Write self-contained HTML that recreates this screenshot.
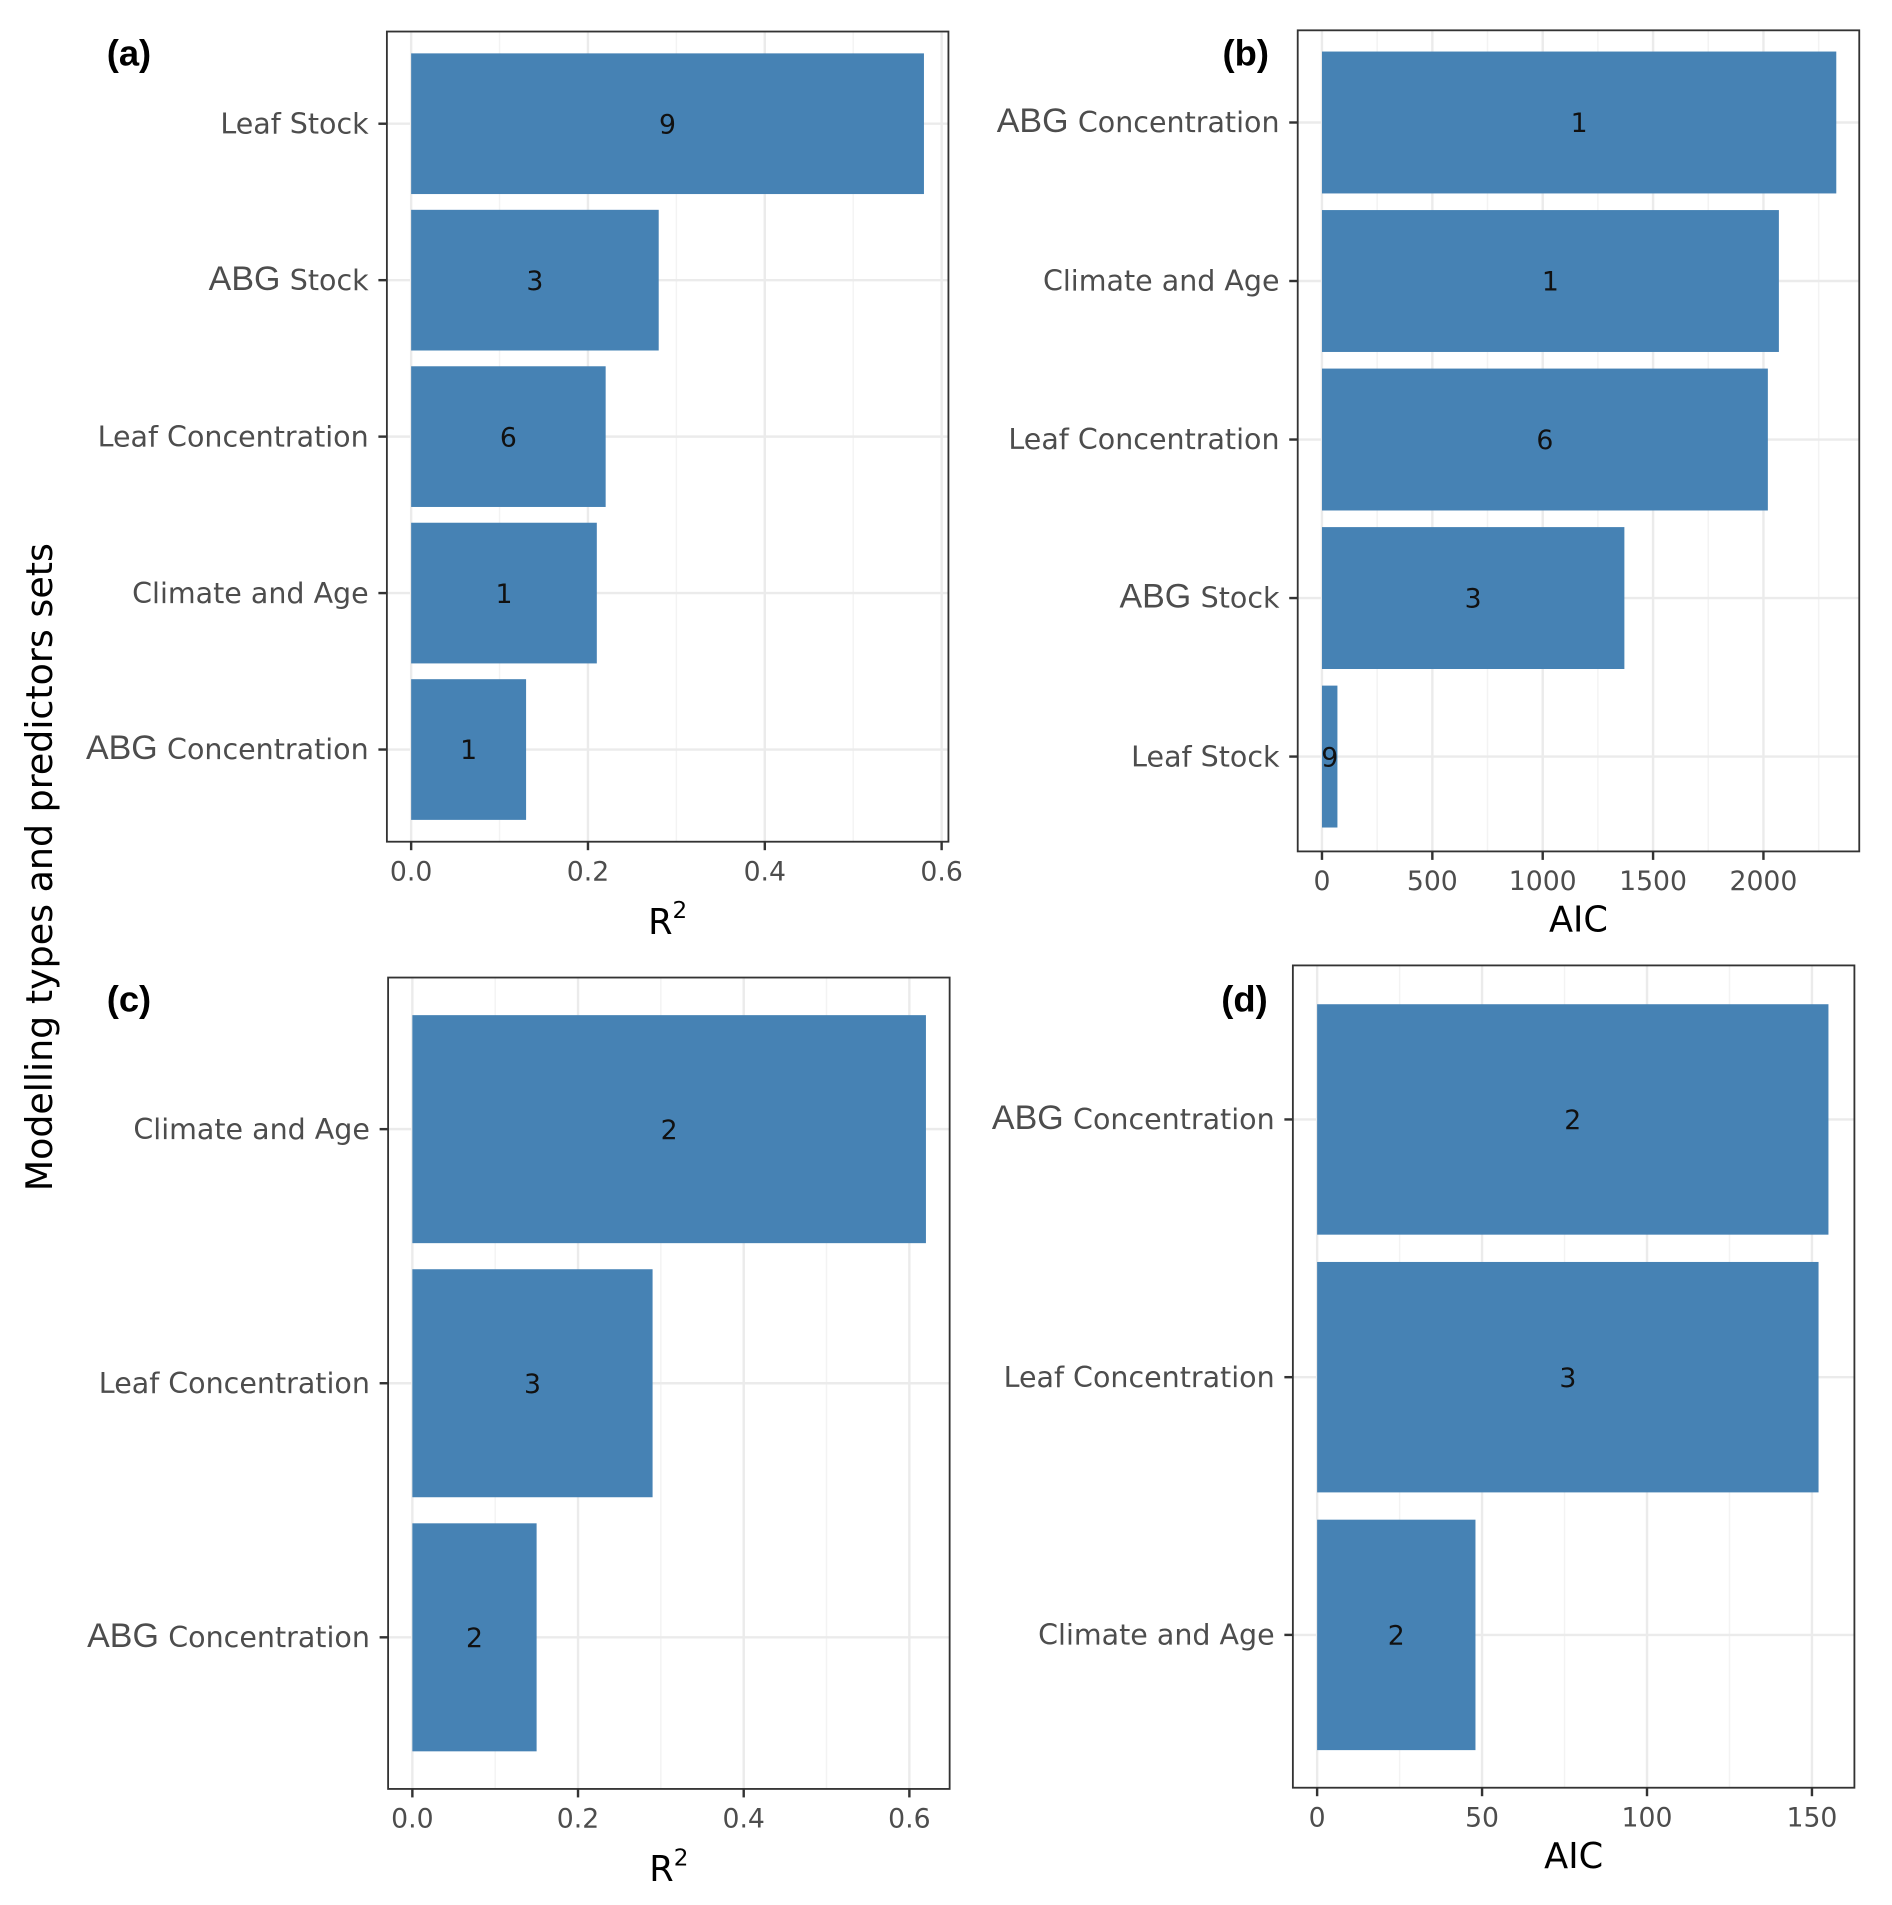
<!DOCTYPE html>
<html><head><meta charset="utf-8">
<style>
html,body{margin:0;padding:0;background:#fff;}
svg{display:block;font-family:"DejaVu Sans","Liberation Sans",sans-serif;}
</style></head>
<body>
<svg id="fig" width="1892" height="1905" viewBox="0 0 1560 1570.7" preserveAspectRatio="none" xmlns="http://www.w3.org/2000/svg">
<rect x="0" y="0" width="1560" height="1571" fill="#fff"/>
<text transform="translate(43,715) rotate(-90)" text-anchor="middle" font-size="30" fill="#000">Modelling types and predictors sets</text>
</svg>
<script>
const catsA = ["Leaf Stock","ABG Stock","Leaf Concentration","Climate and Age","ABG Concentration"];
const valsA = [0.58,0.28,0.22,0.21,0.13];
const nA = ["9","3","6","1","1"];
const ticksA = [0,0.2,0.4,0.6];
const tickLabA = ["0.0","0.2","0.4","0.6"];

const catsB = ["ABG Concentration","Climate and Age","Leaf Concentration","ABG Stock","Leaf Stock"];
const valsB = [2330,2070,2020,1370,70];
const nB = ["1","1","6","3","9"];
const ticksB = [0,500,1000,1500,2000];
const tickLabB = ["0","500","1000","1500","2000"];

const catsC = ["Climate and Age","Leaf Concentration","ABG Concentration"];
const valsC = [0.62,0.29,0.15];
const nC = ["2","3","2"];
const ticksC = [0,0.2,0.4,0.6];
const tickLabC = ["0.0","0.2","0.4","0.6"];

const catsD = ["ABG Concentration","Leaf Concentration","Climate and Age"];
const valsD = [155,152,48];
const nD = ["2","3","2"];
const ticksD = [0,50,100,150];
const tickLabD = ["0","50","100","150"];

const NS="http://www.w3.org/2000/svg";
const svg=document.getElementById('fig');
function mk(tag,attrs,parent){const e=document.createElementNS(NS,tag);for(const k in attrs)e.setAttribute(k,attrs[k]);(parent||svg).appendChild(e);return e;}

function panel(id,letter,box,x0,pxPerUnit,cats,vals,ns,ticks,tickLabs,titleType,firstCenter,step,barH,lx,ly){
  const g=mk('g',{});
  
  
  const sx=v=>x0+v*pxPerUnit;
  const cy=i=>firstCenter+i*step;
  for(let i=0;i<ticks.length;i++){
    const mid=ticks[i]+(ticks[1]-ticks[0])/2;
    const xm=sx(mid);
    if(xm<box.x2) mk('line',{x1:xm,x2:xm,y1:box.y1,y2:box.y2,stroke:'#f3f3f3','stroke-width':1.2},g);
  }
  for(let i=0;i<ticks.length;i++){
    const xt=sx(ticks[i]);
    mk('line',{x1:xt,x2:xt,y1:box.y1,y2:box.y2,stroke:'#ebebeb','stroke-width':2},g);
  }
  for(let i=0;i<cats.length;i++){
    mk('line',{x1:box.x1,x2:box.x2,y1:cy(i),y2:cy(i),stroke:'#ebebeb','stroke-width':2},g);
  }
  for(let i=0;i<cats.length;i++){
    const b=mk('rect',{x:x0,y:cy(i)-barH/2,width:sx(vals[i])-x0,height:barH,fill:'#4682b4'},g);
    
    
    const t=mk('text',{x:(x0+sx(vals[i]))/2,y:cy(i)+8,'text-anchor':'middle','font-size':22,fill:'#111'},g);
    t.textContent=ns[i];
    
    
    const lab=mk('text',{x:box.x1-15,y:cy(i)+8,'text-anchor':'end','font-size':23.5,fill:'#4d4d4d'},g);
    
    
    const c=cats[i];
    if(c.startsWith('ABG ')){
      const s1=mk('tspan',{'font-size':28,'font-family':'Liberation Sans, sans-serif'},lab); s1.textContent='ABG ';
      const s2=mk('tspan',{},lab); s2.textContent=c.slice(4);
    } else lab.textContent=c;
    mk('line',{x1:box.x1-7,x2:box.x1,y1:cy(i),y2:cy(i),stroke:'#333','stroke-width':2},g);
  }
  mk('rect',{x:box.x1,y:box.y1,width:box.x2-box.x1,height:box.y2-box.y1,fill:'none',stroke:'#333','stroke-width':1.5},g);
  for(let i=0;i<ticks.length;i++){
    const xt=sx(ticks[i]);
    mk('line',{x1:xt,x2:xt,y1:box.y2,y2:box.y2+7,stroke:'#333','stroke-width':2},g);
    const t=mk('text',{x:xt,y:box.y2+32,'text-anchor':'middle','font-size':22,fill:'#4d4d4d'},g);
    t.textContent=tickLabs[i];
    
    
  }
  const tx=(box.x1+box.x2)/2;
  const tt=mk('text',{x:tx,y:box.y2+(titleType==='R2'?76:66),'text-anchor':'middle','font-size':29,fill:'#000'},g);
  
  
  if(titleType==='R2'){
    tt.textContent='R';
    const sup=mk('tspan',{'font-size':19,dy:-13},tt); sup.textContent='2';
  } else tt.textContent='AIC';
  const pl=mk('text',{x:lx,y:ly,'font-size':30,'font-weight':'bold','font-family':'Liberation Sans, sans-serif',fill:'#000'},g);
  pl.textContent='('+letter+')';
  
  
}

panel('a','a',{x1:319,x2:782,y1:26,y2:694},339,729,catsA,valsA,nA,ticksA,tickLabA,'R2',102,129,116,88,54);
panel('b','b',{x1:1070,x2:1533,y1:25,y2:702},1090,0.182,catsB,valsB,nB,ticksB,tickLabB,'AIC',101,130.7,117,1008,54);
panel('c','c',{x1:320,x2:783,y1:806,y2:1475},340,683,catsC,valsC,nC,ticksC,tickLabC,'R2',931,209.5,188,88,834);
panel('d','d',{x1:1066,x2:1529,y1:796,y2:1474},1086,2.72,catsD,valsD,nD,ticksD,tickLabD,'AIC',923,212.5,190,1007,834);
</script>
</body></html>
